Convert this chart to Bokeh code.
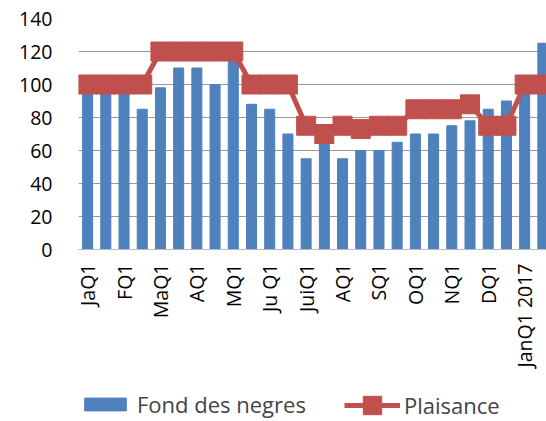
import math
from bokeh.plotting import figure
from bokeh.layouts import column
from bokeh.models import ColumnDataSource, FixedTicker, Legend, LegendItem, Range1d
from bokeh.embed import file_html
from bokeh.resources import INLINE

categories = ["JaQ1", "JaQ2", "FQ1", "FQ2", "MaQ1", "MaQ2", "AQ1", "AQ2", "MQ1", "MQ2",
              "Ju Q1", "Ju Q2", "JuiQ1", "JuiQ2", "AQ1", "AQ2", "SQ1", "SQ2", "OQ1", "OQ2",
              "NQ1", "NQ2", "DQ1", "DQ2", "JanQ1 2017", "JanQ2 2017"]
fond_des_negres = [100, 100, 100, 85, 98, 110, 110, 100, 115, 88,
                   85, 70, 55, 65, 55, 60, 60, 65, 70, 70,
                   75, 78, 85, 90, 98, 125]
plaisance = [100, 100, 100, 100, 120, 120, 120, 120, 120, 100,
             100, 100, 75, 70, 75, 73, 75, 75, 85, 85,
             85, 88, 75, 75, 100, 100]
y_ticks = [0, 20, 40, 60, 80, 100, 120, 140]

x = list(range(len(categories)))
src = ColumnDataSource(dict(x=x, fond=fond_des_negres, plai=plaisance))

FONT = "Open Sans"
BLUE = "#4F81BD"
RED = "#C0504D"

p = figure(width=546, height=370, output_backend="svg", toolbar_location=None,
           x_range=Range1d(-0.5, 25.2), y_range=Range1d(0, 140),
           min_border_left=78, min_border_top=18, min_border_right=0,
           min_border_bottom=121,
           background_fill_color="white", border_fill_color="white", outline_line_color=None)

p.vbar(x="x", top="fond", width=0.55, source=src, fill_color=BLUE, line_color=BLUE)
p.line(x="x", y="plai", source=src, line_color=RED, line_width=5)
p.scatter(x="x", y="plai", source=src, marker="square", size=19,
          fill_color=RED, line_color=RED)

p.xaxis.ticker = FixedTicker(ticks=x[::2])
p.xaxis.major_label_overrides = {i: categories[i] for i in x[::2]}
p.xaxis.major_label_orientation = math.pi / 2
p.xaxis.major_tick_line_color = None
p.xaxis.major_tick_out = 0
p.xaxis.major_tick_in = 0
p.xaxis.minor_tick_line_color = None
p.xaxis.axis_line_color = "#BBBBBB"
p.xaxis.axis_line_width = 1
p.xaxis.major_label_text_font = FONT
p.xaxis.major_label_text_font_size = "19.5px"
p.xaxis.major_label_text_color = "black"
p.xaxis.major_label_standoff = 14

p.yaxis.ticker = FixedTicker(ticks=y_ticks)
p.yaxis.axis_line_color = None
p.yaxis.major_tick_line_color = None
p.yaxis.major_tick_out = 0
p.yaxis.major_tick_in = 0
p.yaxis.minor_tick_line_color = None
p.yaxis.major_label_text_font = FONT
p.yaxis.major_label_text_font_size = "19.5px"
p.yaxis.major_label_text_color = "black"
p.yaxis.major_label_standoff = 26

p.xgrid.grid_line_color = None
p.ygrid.grid_line_color = "#999999"
p.ygrid.grid_line_width = 1

# legend strip below the chart (frames are aligned with the chart above)
lg = figure(width=546, height=51, output_backend="svg", toolbar_location=None,
            x_range=Range1d(0, 1), y_range=Range1d(-1000, -999),
            x_axis_location=None, y_axis_location=None, min_border=0,
            background_fill_color="white", border_fill_color="white", outline_line_color=None)
lg.xgrid.grid_line_color = None
lg.ygrid.grid_line_color = None
r_bar = lg.vbar(x="x", top="fond", width=0.55, source=src, fill_color=BLUE, line_color=BLUE,
                visible=False)
r_ln = lg.line(x="x", y="plai", source=src, line_color=RED, line_width=5, visible=False)
r_mk = lg.scatter(x="x", y="plai", source=src, marker="square", size=19,
                  fill_color=RED, line_color=RED, visible=False)

common = dict(label_text_font=FONT, label_text_font_size="22px",
              border_line_color=None, background_fill_alpha=0, margin=0, padding=0,
              inactive_fill_alpha=0, click_policy="none")
leg1 = Legend(items=[LegendItem(label="Fond des negres", renderers=[r_bar])],
              location=(1, 2), glyph_width=52, glyph_height=16, label_standoff=6, **common)
leg2 = Legend(items=[LegendItem(label="Plaisance", renderers=[r_ln, r_mk])],
              location=(266, -7), glyph_width=56, glyph_height=46, label_standoff=4, **common)
lg.add_layout(leg1, "center")
lg.add_layout(leg2, "center")

layout = column(p, lg, spacing=0)
open("out.html", "w").write(file_html(layout, INLINE))
